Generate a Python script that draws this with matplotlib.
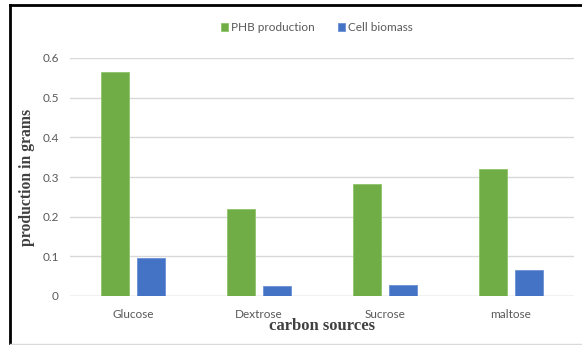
import matplotlib
matplotlib.use("Agg")
import matplotlib.pyplot as plt
import numpy as np
from matplotlib.lines import Line2D

sources = ["Glucose", "Dextrose", "Sucrose", "maltose"]
phb = [0.565, 0.22, 0.282, 0.32]
biomass = [0.097, 0.024, 0.027, 0.065]
yticks = [0, 0.1, 0.2, 0.3, 0.4, 0.5, 0.6]

green = "#70ad47"
blue = "#4472c4"
grey_text = "#595959"

fig = plt.figure(figsize=(5.82, 3.45), dpi=100)
ax = fig.add_axes([70 / 582, 1 - 296 / 345, 504 / 582, 238 / 345])

x = np.arange(len(sources))
w = 0.222
off = 0.143
ax.bar(x - off, phb, w, color=green, edgecolor="#8fc46a", linewidth=0.6,
       label="PHB production", zorder=3)
ax.bar(x + off, biomass, w, color=blue, edgecolor="#6a90d4", linewidth=0.6,
       label="Cell biomass", zorder=3)

ax.set_xlim(-0.5, len(sources) - 0.5)
ax.set_ylim(0, 0.6)
ax.set_yticks(yticks)
ax.set_yticklabels(["0", "0.1", "0.2", "0.3", "0.4", "0.5", "0.6"])
ax.set_xticks(x)
ax.set_xticklabels(sources)
ax.yaxis.grid(True, color="#d9d9d9", linewidth=1, zorder=0)
ax.set_axisbelow(True)
for s in ax.spines.values():
    s.set_visible(False)
ax.axhline(0, color="#d9d9d9", linewidth=1, zorder=1)
ax.tick_params(length=0, labelsize=8.5, labelcolor=grey_text)
ax.tick_params(axis="x", pad=9)
ax.tick_params(axis="y", pad=8)
for lbl in ax.get_xticklabels() + ax.get_yticklabels():
    lbl.set_family("Lato")

ax.set_xlabel("carbon sources", family="Liberation Serif", weight="bold",
              size=12, color="#404040", labelpad=-1)
ax.set_ylabel("production in grams", family="Liberation Serif", weight="bold",
              size=11.3, color="#404040", labelpad=5)

leg = ax.legend(loc="lower center", bbox_to_anchor=(0.49, 1.06), ncol=2,
                frameon=False, prop={"family": "Lato", "size": 8.5},
                handlelength=0.6, handleheight=0.6, handletextpad=0.3,
                columnspacing=1.9)
for t in leg.get_texts():
    t.set_color(grey_text)

# frame around the chart: dark on left/top, faint at the bottom
fig.add_artist(Line2D([10 / 582, 10 / 582], [0, 1 - 5 / 345], color="black",
                      linewidth=2, transform=fig.transFigure))
fig.add_artist(Line2D([10 / 582, 1], [1 - 5 / 345, 1 - 5 / 345], color="black",
                      linewidth=2, transform=fig.transFigure))
fig.add_artist(Line2D([10 / 582, 1], [1 / 345, 1 / 345], color="#d9d9d9",
                      linewidth=1, transform=fig.transFigure))

fig.savefig("out.png", dpi=100)
